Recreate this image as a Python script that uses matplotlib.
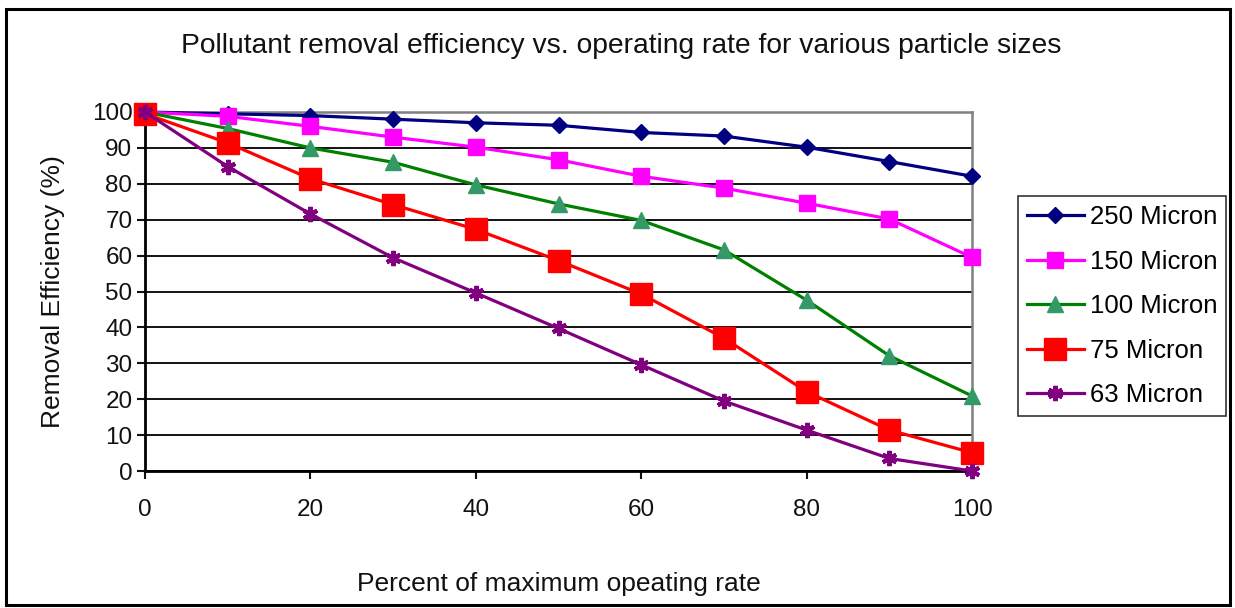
import matplotlib
matplotlib.use("Agg")
import matplotlib.pyplot as plt
from matplotlib.patches import Rectangle

plt.rcParams['font.family'] = ['Liberation Sans', 'DejaVu Sans']

x = [0, 10, 20, 30, 40, 50, 60, 70, 80, 90, 100]
r250 = [100, 99.5, 99, 98, 97, 96.3, 94.3, 93.3, 90.2, 86.2, 82.1]
r150 = [100, 98.8, 96, 93, 90.2, 86.7, 82.1, 78.8, 74.6, 70.2, 59.5]
r100 = [100, 95.4, 90, 86, 79.7, 74.4, 69.8, 61.6, 47.6, 32.1, 20.9]
r75 = [99.5, 91.4, 81.4, 74.2, 67.3, 58.6, 49.3, 37.0, 22.1, 11.4, 5.1]
r63 = [100, 84.8, 71.6, 59.4, 49.6, 39.7, 29.6, 19.5, 11.4, 3.5, 0]
labels = ["250 Micron", "150 Micron", "100 Micron", "75 Micron", "63 Micron"]
xticks = [0, 20, 40, 60, 80, 100]
yticks = [0, 10, 20, 30, 40, 50, 60, 70, 80, 90, 100]

fig = plt.figure(figsize=(12.35, 6.08), dpi=100)
fig.patch.set_facecolor('white')
fig.patches.append(Rectangle((6/1235, 1-605/608), 1224/1235, 596/608,
                             transform=fig.transFigure, fill=False,
                             edgecolor='black', linewidth=2.2))

ax = fig.add_axes([145/1235, 1-471/608, (972-145)/1235, (471-112)/608])
ax.set_xlim(0, 100)
ax.set_ylim(0, 100)

styles = [
    dict(color='#000080', marker='D', markersize=8.5, markerfacecolor='#000080', markeredgecolor='#000080'),
    dict(color='#FF00FF', marker='s', markersize=11, markerfacecolor='#FF00FF', markeredgecolor='#FF00FF'),
    dict(color='#008000', marker='^', markersize=11, markerfacecolor='#339966', markeredgecolor='#339966'),
    dict(color='#FF0000', marker='s', markersize=15.5, markerfacecolor='#FF0000', markeredgecolor='#FF0000'),
    dict(color='#800080', marker=(6, 2, 0), markersize=11, markerfacecolor='#800080', markeredgecolor='#800080', markeredgewidth=3),
]
for ys, lab, st in zip([r250, r150, r100, r75, r63], labels, styles):
    ax.plot(x, ys, label=lab, linewidth=2.3, clip_on=False, zorder=3, **st)

ax.set_yticks(yticks)
ax.set_xticks(xticks)
ax.yaxis.grid(True, color='black', linewidth=1.3)
ax.set_axisbelow(True)
for s in ['top', 'right']:
    ax.spines[s].set_color('#808080')
    ax.spines[s].set_linewidth(1.8)
for s in ['left', 'bottom']:
    ax.spines[s].set_color('black')
    ax.spines[s].set_linewidth(2)
ax.tick_params(axis='both', direction='out', length=6, width=1.5, labelsize=17.5, colors='#111111')
ax.tick_params(axis='y', pad=3)
ax.tick_params(axis='x', pad=14)

ax.set_xlabel("Percent of maximum opeating rate", fontsize=19, labelpad=37, color='#111111')
ax.set_ylabel("Removal Efficiency (%)", fontsize=19, labelpad=19, color='#111111')
fig.text(621/1235, 1-46/608, "Pollutant removal efficiency vs. operating rate for various particle sizes",
         ha='center', va='center', fontsize=20.3, color='#111111')

leg = fig.legend(loc='upper left', bbox_to_anchor=(1018/1235, 1-196/608),
                 frameon=True, fancybox=False, fontsize=18.5, handlelength=2.2,
                 labelspacing=0.8, borderpad=0.35, handletextpad=0.25, borderaxespad=0)
leg.get_frame().set_edgecolor('black')
leg.get_frame().set_linewidth(1.2)

fig.savefig('out.png', dpi=100)
